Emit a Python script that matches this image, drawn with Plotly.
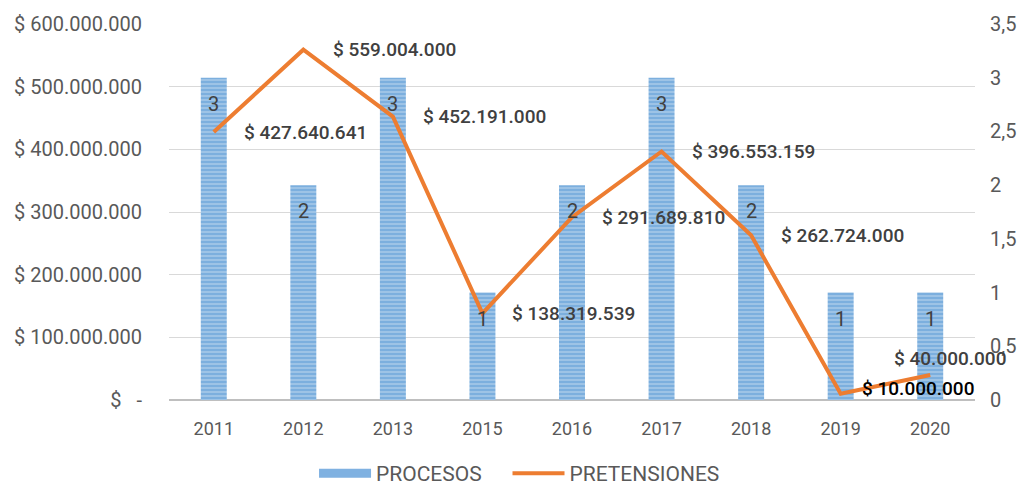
import plotly.graph_objects as go

years = ["2011", "2012", "2013", "2015", "2016", "2017", "2018", "2019", "2020"]
procesos = [3, 2, 3, 1, 2, 3, 2, 1, 1]
pretensiones = [427640641, 559004000, 452191000, 138319539, 291689810,
                396553159, 262724000, 10000000, 40000000]
pret_labels = ["$ 427.640.641", "$ 559.004.000", "$ 452.191.000", "$ 138.319.539",
               "$ 291.689.810", "$ 396.553.159", "$ 262.724.000", "$ 10.000.000",
               "$ 40.000.000"]
left_ticks = [0, 100e6, 200e6, 300e6, 400e6, 500e6, 600e6]
left_ticktext = ["$\u00a0\u00a0\u00a0-", "$ 100.000.000", "$ 200.000.000", "$ 300.000.000",
                 "$ 400.000.000", "$ 500.000.000", "$ 600.000.000"]
right_ticks = [0, 0.5, 1, 1.5, 2, 2.5, 3, 3.5]
right_ticktext = ["0", "0,5", "1", "1,5", "2", "2,5", "3", "3,5"]

FONT = "Roboto"
GREY = "#595959"
DARK = "#404040"
BAR_BG = "#9dc3e6"
BAR_FG = "#5b9bd5"
GAP = "\u00a0" * 4

fig = go.Figure()
fig.add_trace(go.Bar(
    x=years, y=procesos, name="PROCESOS", yaxis="y", showlegend=False,
    width=0.29,
    marker=dict(color=BAR_BG,
                pattern=dict(shape="-", fgcolor=BAR_FG, size=4, solidity=0.5),
                line=dict(width=0)),
))
# legend entry for the bars (wide striped-looking swatch)
fig.add_trace(go.Scatter(
    x=[None], y=[None], name="PROCESOS" + GAP, yaxis="y", mode="lines",
    line=dict(color="#7fb1e1", width=9),
))
fig.add_trace(go.Scatter(
    x=years, y=pretensiones, name="PRETENSIONES", yaxis="y2",
    mode="lines", line=dict(color="#ed7d31", width=4),
))

# bar value labels (inside, near top)
for i, v in enumerate(procesos):
    fig.add_annotation(x=i, y=v, xref="x", yref="y", text=str(v), showarrow=False,
                       yanchor="middle", yshift=-26,
                       font=dict(family=FONT, size=20, color=DARK))

# line value labels
shifts = [(28, 0)] * 7 + [(19, 5), (-38, 16)]
for i, (v, lab) in enumerate(zip(pretensiones, pret_labels)):
    xs, ys = shifts[i]
    fig.add_annotation(x=i, y=v, xref="x", yref="y2", text=lab, showarrow=False,
                       xanchor="left", yanchor="middle", xshift=xs, yshift=ys,
                       font=dict(family=FONT, size=19, weight=500,
                                 color="#000000" if i == 7 else DARK))

# page body has an 8px margin: figure is shrunk/shifted to compensate
fig.update_layout(
    width=1019, height=479,
    margin=dict(l=161, r=52, t=16, b=87),
    paper_bgcolor="white", plot_bgcolor="white",
    font=dict(family=FONT, size=17, color=GREY),
    bargap=0.71,
    xaxis=dict(type="category", showgrid=False, ticks="", showline=False,
               automargin=False, range=[-0.5, 8.5], ticklabelstandoff=16,
               tickfont=dict(size=18, color=GREY)),
    yaxis=dict(side="right", range=[0, 3.5], tickvals=right_ticks,
               ticktext=right_ticktext, showgrid=False, zeroline=False,
               automargin=False, ticks="", ticklabelstandoff=14,
               tickfont=dict(size=20, color=GREY)),
    yaxis2=dict(side="left", overlaying="y", range=[0, 600e6], tickvals=left_ticks,
                ticktext=left_ticktext, showgrid=True, gridcolor="#d9d9d9",
                gridwidth=1, zeroline=True, zerolinecolor="#bfbfbf", zerolinewidth=2,
                automargin=False, ticks="", ticklabelstandoff=26,
                tickfont=dict(size=20, color=GREY)),
    legend=dict(orientation="h", xref="container", x=0.502, xanchor="center",
                yref="container", y=0.028, yanchor="middle",
                itemwidth=52,
                font=dict(size=21, color=GREY), traceorder="normal"),
)

fig.write_html("out.html")
